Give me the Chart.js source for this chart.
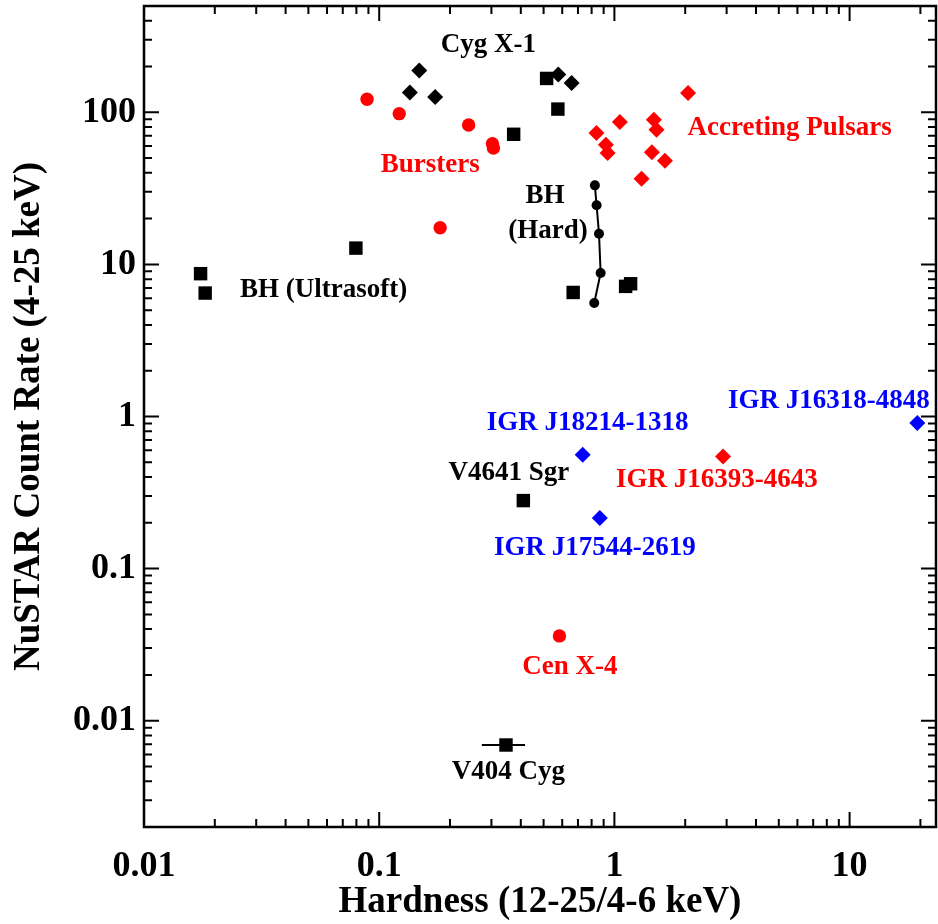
<!DOCTYPE html>
<html>
<head>
<meta charset="utf-8">
<script src="https://cdn.jsdelivr.net/npm/chart.js@4.4.1/dist/chart.umd.min.js"></script>
<style>
  html, body { margin: 0; padding: 0; background: #fff; overflow: hidden; }
  canvas { display: block; }
</style>
</head>
<body>
<canvas id="chart-hardness" width="938" height="924"></canvas>
<script>
const FONT = '"Liberation Serif", "Times New Roman", serif';

// hardness (12-25 / 4-6 keV) vs NuSTAR count rate (4-25 keV)
const cygX = [0.148, 0.135, 0.173, 0.577, 0.658];
const cygY = [188, 135, 126, 177, 156];

const bhSquareX = [0.515, 0.575, 0.373, 0.0174, 0.0182, 0.0796, 0.668, 1.116, 1.172, 0.410, 0.346];
const bhSquareY = [167, 105, 71.7, 8.69, 6.48, 12.8, 6.54, 7.17, 7.46, 0.280, 0.00692];

const v404ErrX = [0.273, 0.417];
const v404ErrY = [0.00692, 0.00692];

const bhHardX = [0.826, 0.840, 0.860, 0.874, 0.821];
const bhHardY = [33.1, 24.5, 15.9, 8.78, 5.57];

const bursterX = [0.0888, 0.1217, 0.240, 0.303, 0.306, 0.1816, 0.584];
const bursterY = [121.8, 98, 82.6, 62.2, 58.3, 17.4, 0.0361];

const pulsarX = [0.839, 1.055, 0.920, 0.936, 2.057, 1.472, 1.51, 1.443, 1.64, 1.305, 2.897];
const pulsarY = [73.2, 86.5, 61.3, 54.1, 134.2, 89.5, 76.9, 54.6, 48.1, 36.6, 0.546];

const sfxtX = [0.733, 0.867, 19.4];
const sfxtY = [0.56, 0.215, 0.905];

// text notes (data coords)
const noteText = ["Cyg X-1", "Bursters", "BH", "(Hard)", "Accreting Pulsars", "BH (Ultrasoft)",
  "IGR J18214-1318", "IGR J16318-4848", "V4641 Sgr", "IGR J16393-4643", "IGR J17544-2619",
  "Cen X-4", "V404 Cyg"];
const noteX = [0.291, 0.1647, 0.507, 0.522, 5.56, 0.058, 0.769, 8.17, 0.356, 2.73, 0.826, 0.647, 0.354];
const noteY = [279, 45.3, 28.0, 16.5, 79.0, 6.75, 0.905, 1.256, 0.428, 0.383, 0.136, 0.0227, 0.00458];
const noteGroup = ["k", "r", "k", "k", "r", "k", "b", "b", "k", "r", "b", "r", "k"];

const xTickLabels = ["0.01", "0.1", "1", "10"];
const yTickLabels = ["0.01", "0.1", "1", "10", "100"];
const xRange = [0.01, 23.3];
const yRange = [0.002, 500];

const COLORS = { k: "#000000", r: "#ff0000", b: "#0000ff" };

const pts = (xs, ys) => xs.map((x, i) => ({ x, y: ys[i] }));

function logTicks(min, max) {
  const out = [];
  for (let e = Math.floor(Math.log10(min)); e <= Math.ceil(Math.log10(max)); e++) {
    for (let m = 1; m <= 9; m++) {
      const v = Number((m * Math.pow(10, e)).toPrecision(6));
      if (v >= min * 0.9999 && v <= max * 1.0001) out.push(v);
    }
  }
  return out;
}

function labelFor(list, v) {
  const hit = list.find((l) => Math.abs(Math.log10(+l) - Math.log10(v)) < 1e-6);
  return hit || "";
}

const isDecade = (v) => Math.abs(Math.log10(v) - Math.round(Math.log10(v))) < 1e-6;

// IDL-style frame: inward ticks on all four sides, plus the text notes
const frameTicks = {
  id: "frameTicks",
  afterDraw(chart) {
    const { ctx, chartArea: a, scales: { x, y } } = chart;
    ctx.save();
    ctx.strokeStyle = "#000";
    ctx.lineWidth = 2;
    ctx.beginPath();
    x.ticks.forEach((t) => {
      const px = x.getPixelForValue(t.value);
      const len = isDecade(t.value) ? 15 : 8;
      ctx.moveTo(px, a.bottom); ctx.lineTo(px, a.bottom - len);
      ctx.moveTo(px, a.top); ctx.lineTo(px, a.top + len);
    });
    y.ticks.forEach((t) => {
      const py = y.getPixelForValue(t.value);
      const len = isDecade(t.value) ? 15 : 8;
      ctx.moveTo(a.left, py); ctx.lineTo(a.left + len, py);
      ctx.moveTo(a.right, py); ctx.lineTo(a.right - len, py);
    });
    ctx.stroke();
    ctx.lineWidth = 2.5;
    ctx.strokeRect(a.left, a.top, a.right - a.left, a.bottom - a.top);

    ctx.font = "bold 27px " + FONT;
    ctx.textAlign = "center";
    ctx.textBaseline = "middle";
    noteText.forEach((txt, i) => {
      ctx.fillStyle = COLORS[noteGroup[i]];
      ctx.fillText(txt, x.getPixelForValue(noteX[i]), y.getPixelForValue(noteY[i]));
    });
    ctx.restore();
  },
};

function axisOpts(range, labels, pad, extra) {
  return Object.assign({
    type: "logarithmic",
    min: range[0],
    max: range[1],
    grid: { display: false, drawTicks: false },
    border: { display: false },
    afterBuildTicks: (s) => { s.ticks = logTicks(range[0], range[1]).map((v) => ({ value: v })); },
    ticks: {
      autoSkip: false,
      maxRotation: 0,
      padding: pad,
      color: "#000",
      font: { family: FONT, size: 36, weight: "bold" },
      callback: (v) => labelFor(labels, v),
    },
  }, extra);
}

const scatter = (label, xs, ys, style) => Object.assign({
  label,
  data: pts(xs, ys),
  showLine: false,
  pointBorderWidth: 0,
}, style);

new Chart(document.getElementById("chart-hardness"), {
  type: "scatter",
  data: {
    datasets: [
      scatter("BH hard", bhHardX, bhHardY, {
        showLine: true, borderColor: "#000", borderWidth: 2,
        pointStyle: "circle", pointRadius: 5, pointBackgroundColor: "#000",
      }),
      scatter("V404 err", v404ErrX, v404ErrY, {
        showLine: true, borderColor: "#000", borderWidth: 2, pointRadius: 0,
      }),
      scatter("BH", bhSquareX, bhSquareY, { pointStyle: "rect", pointRadius: 9.5, pointBackgroundColor: "#000" }),
      scatter("Cyg X-1", cygX, cygY, { pointStyle: "rectRot", pointRadius: 8, pointBackgroundColor: "#000" }),
      scatter("Bursters", bursterX, bursterY, { pointStyle: "circle", pointRadius: 6.7, pointBackgroundColor: "#ff0000" }),
      scatter("Pulsars", pulsarX, pulsarY, { pointStyle: "rectRot", pointRadius: 8, pointBackgroundColor: "#ff0000" }),
      scatter("SFXT", sfxtX, sfxtY, { pointStyle: "rectRot", pointRadius: 8, pointBackgroundColor: "#0000ff" }),
    ],
  },
  options: {
    responsive: false,
    animation: false,
    events: [],
    devicePixelRatio: 1,
    layout: { autoPadding: false, padding: { left: 0, right: 2, top: 6, bottom: 0 } },
    plugins: { legend: { display: false }, tooltip: { enabled: false } },
    scales: {
      x: axisOpts(xRange, xTickLabels, 18, {
        afterFit: (s) => { s.height = 97; s.paddingLeft = 0; s.paddingRight = 0; },
        title: {
          display: true, text: "Hardness (12-25/4-6 keV)", color: "#000",
          font: { family: FONT, size: 37, weight: "bold", lineHeight: 1 },
          padding: { top: 0, bottom: 3 },
        },
      }),
      y: axisOpts(yRange, yTickLabels, 8, {
        afterFit: (s) => { s.width = 144; s.paddingTop = 0; s.paddingBottom = 0; },
        title: {
          display: true, text: "NuSTAR Count Rate (4-25 keV)", color: "#000",
          font: { family: FONT, size: 37, weight: "bold", lineHeight: 1 },
          padding: { top: 11, bottom: 0 },
        },
      }),
    },
  },
  plugins: [frameTicks],
});
</script>
</body>
</html>
